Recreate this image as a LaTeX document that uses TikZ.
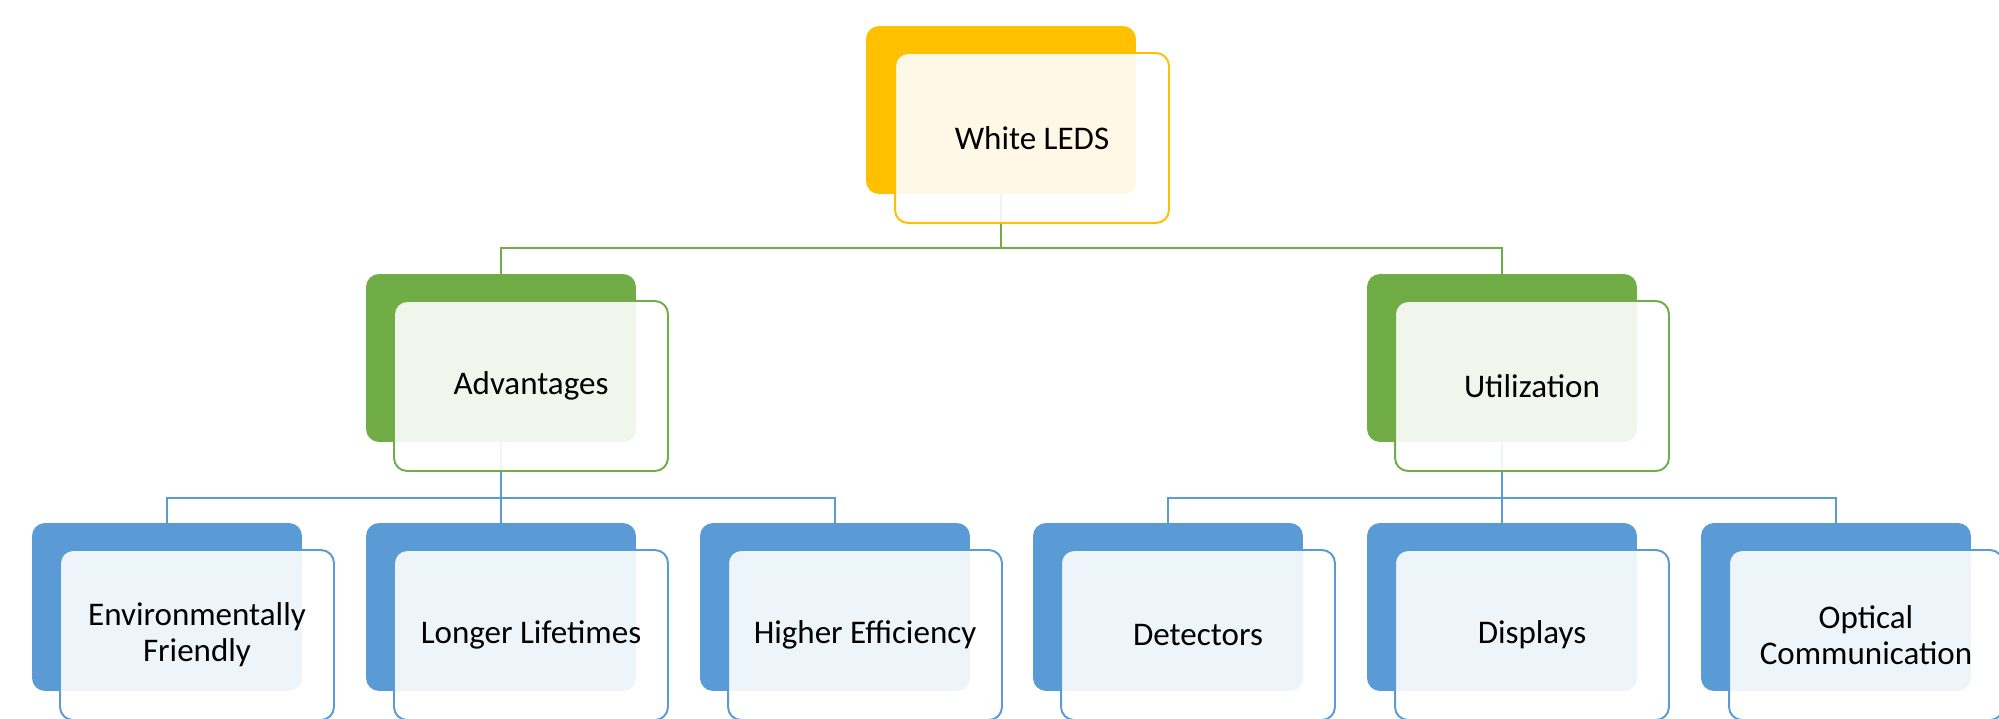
\documentclass[tikz,border=0pt]{standalone}
\usepackage{fontspec}
\setmainfont{Carlito}
\definecolor{ledgold}{HTML}{FFC000}
\definecolor{ledgreen}{HTML}{70AD47}
\definecolor{ledblue}{HTML}{5B9BD5}
\pgfdeclarelayer{background}
\pgfsetlayers{background,main}
\tikzset{
  backbox/.style={rectangle, rounded corners=0.26cm, inner sep=0pt,
    minimum width=5.4cm, minimum height=3.36cm, fill=#1},
  frontbox/.style={rectangle, rounded corners=0.26cm, inner sep=0pt,
    minimum width=5.48cm, minimum height=3.4cm, draw=#1, line width=1.1pt,
    fill=white, fill opacity=0.9, text opacity=1, align=center,
    font=\fontsize{18.8}{20.5}\selectfont},
  linkline/.style={draw=#1, line width=1.1pt}
}
\begin{document}
\begin{tikzpicture}[x=0.02cm, y=-0.02cm]
    \clip (0,0) rectangle (1999,718);
    % top
    \node[backbox=ledgold] (topback) at (1001,110) {};
    \node[frontbox=ledgold] (top) at ([shift={(31,28)}]topback.center) {White LEDS};
    % second row
    \node[backbox=ledgreen] (advback) at (501,358) {};
    \node[frontbox=ledgreen] (adv) at ([shift={(30,28)}]advback.center) {Advantages};
    \node[backbox=ledgreen] (utilback) at (1502,358) {};
    \node[frontbox=ledgreen] (util) at ([shift={(30,28)}]utilback.center) {Utilization};
    % third row
    \node[backbox=ledblue] (envback) at (167,607) {};
    \node[frontbox=ledblue] (env) at ([shift={(30,28)}]envback.center) {Environmentally\\Friendly};
    \node[backbox=ledblue] (lonback) at (501,607) {};
    \node[frontbox=ledblue] (lon) at ([shift={(30,28)}]lonback.center) {Longer Lifetimes};
    \node[backbox=ledblue] (higback) at (835,607) {};
    \node[frontbox=ledblue] (hig) at ([shift={(30,28)}]higback.center) {Higher Efficiency};
    \node[backbox=ledblue] (detback) at (1168,607) {};
    \node[frontbox=ledblue] (det) at ([shift={(30,28)}]detback.center) {Detectors};
    \node[backbox=ledblue] (disback) at (1502,607) {};
    \node[frontbox=ledblue] (dis) at ([shift={(30,28)}]disback.center) {Displays};
    \node[backbox=ledblue] (optback) at (1836,607) {};
    \node[frontbox=ledblue] (opt) at ([shift={(30,28)}]optback.center) {Optical\\Communication};
    % connectors
    \begin{pgfonlayer}{background}
      \coordinate (gbus) at (1001,248);
      \coordinate (abus) at (501,498);
      \coordinate (ubus) at (1502,498);
      \draw[linkline=ledgreen] (topback.south) -- (gbus);
      \draw[linkline=ledgreen] (gbus) -| (advback.north);
      \draw[linkline=ledgreen] (gbus) -| (utilback.north);
      \draw[linkline=ledblue] (advback.south) -- (abus);
      \draw[linkline=ledblue] (abus) -| (envback.north);
      \draw[linkline=ledblue] (abus) -- (lonback.north);
      \draw[linkline=ledblue] (abus) -| (higback.north);
      \draw[linkline=ledblue] (utilback.south) -- (ubus);
      \draw[linkline=ledblue] (ubus) -| (detback.north);
      \draw[linkline=ledblue] (ubus) -- (disback.north);
      \draw[linkline=ledblue] (ubus) -| (optback.north);
    \end{pgfonlayer}
  \end{tikzpicture}
\end{document}
